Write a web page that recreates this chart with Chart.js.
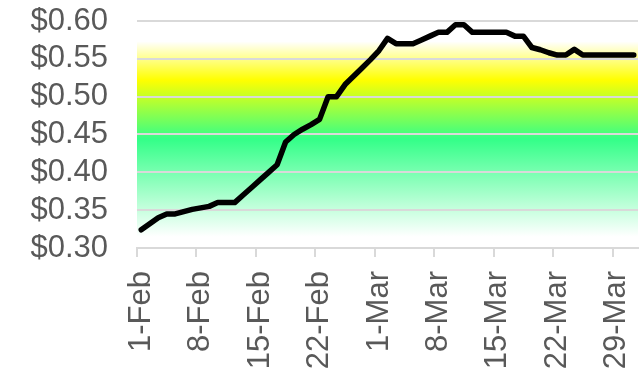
<!DOCTYPE html>
<html>
<head>
<meta charset="utf-8">
<script src="https://cdn.jsdelivr.net/npm/chart.js@4.4.1/dist/chart.umd.min.js"></script>
<style>
  html, body { margin: 0; padding: 0; background: #ffffff; }
  #wrap { width: 643px; height: 372px; position: relative; }
</style>
</head>
<body>
<div id="wrap"><canvas id="c"></canvas></div>
<script>
const categories = [
  '1-Feb','2-Feb','3-Feb','4-Feb','5-Feb','6-Feb','7-Feb','8-Feb','9-Feb','10-Feb',
  '11-Feb','12-Feb','13-Feb','14-Feb','15-Feb','16-Feb','17-Feb','18-Feb','19-Feb','20-Feb',
  '21-Feb','22-Feb','23-Feb','24-Feb','25-Feb','26-Feb','27-Feb','28-Feb','1-Mar','2-Mar',
  '3-Mar','4-Mar','5-Mar','6-Mar','7-Mar','8-Mar','9-Mar','10-Mar','11-Mar','12-Mar',
  '13-Mar','14-Mar','15-Mar','16-Mar','17-Mar','18-Mar','19-Mar','20-Mar','21-Mar','22-Mar',
  '23-Mar','24-Mar','25-Mar','26-Mar','27-Mar','28-Mar','29-Mar','30-Mar','31-Mar'
];
const prices = [
  0.324, 0.332, 0.340, 0.345, 0.345, 0.348, 0.351, 0.353, 0.355, 0.360,
  0.360, 0.360, 0.370, 0.380, 0.390, 0.400, 0.410, 0.440, 0.450, 0.457,
  0.463, 0.470, 0.500, 0.500, 0.516, 0.527, 0.538, 0.549, 0.561, 0.577,
  0.570, 0.570, 0.570, 0.575, 0.580, 0.585, 0.585, 0.595, 0.595, 0.585,
  0.585, 0.585, 0.585, 0.585, 0.580, 0.580, 0.565, 0.562, 0.558, 0.555,
  0.555, 0.5625, 0.555, 0.555, 0.555, 0.555, 0.555, 0.555, 0.555
];
const yTickValues = [0.30, 0.35, 0.40, 0.45, 0.50, 0.55, 0.60];
const labelEvery = 7;

const gradientBg = {
  id: 'gradientBg',
  beforeDraw(chart) {
    const { ctx, chartArea: a } = chart;
    const g = ctx.createLinearGradient(0, a.top, 0, a.bottom);
    g.addColorStop(0.00, '#ffffff');
    g.addColorStop(0.09, '#ffffff');
    g.addColorStop(0.26, '#ffff00');
    g.addColorStop(0.52, '#33ff88');
    g.addColorStop(0.95, '#ffffff');
    g.addColorStop(1.00, '#ffffff');
    ctx.save();
    ctx.fillStyle = g;
    ctx.fillRect(a.left, a.top, a.right - a.left, a.bottom - a.top);
    ctx.restore();
  }
};

const FONT = { family: "'Liberation Sans', Arial, sans-serif", size: 31 };

new Chart(document.getElementById('c'), {
  type: 'line',
  data: {
    labels: categories,
    datasets: [{
      data: prices,
      borderColor: '#000000',
      borderWidth: 5.5,
      borderJoinStyle: 'round',
      borderCapStyle: 'round',
      pointRadius: 0,
      tension: 0,
      fill: false
    }]
  },
  options: {
    responsive: true,
    maintainAspectRatio: false,
    animation: false,
    layout: { padding: { left: 0, right: 5, top: 21, bottom: 0 } },
    plugins: { legend: { display: false }, tooltip: { enabled: false } },
    scales: {
      x: {
        type: 'category',
        offset: true,
        grid: {
          offset: true,
          drawOnChartArea: false,
          drawTicks: true,
          tickLength: 9,
          color: ctx => (ctx.index % labelEvery === 0 ? '#d9d9d9' : 'rgba(0,0,0,0)'),
          lineWidth: 2
        },
        border: { display: true, color: '#d9d9d9', width: 2 },
        ticks: {
          autoSkip: false,
          minRotation: 90,
          maxRotation: 90,
          padding: 14,
          color: '#595959',
          font: FONT,
          callback: function(v, i) { return i % labelEvery === 0 ? categories[i] : ''; }
        },
        afterFit(scale) {
          scale.paddingLeft = 0;
          scale.paddingRight = 0;
          scale.height = 124;
        }
      },
      y: {
        min: yTickValues[0],
        max: yTickValues[yTickValues.length - 1],
        grid: { color: '#d9d9d9', lineWidth: 2, drawTicks: false },
        border: { display: false },
        ticks: {
          autoSkip: false,
          padding: 29,
          color: '#595959',
          font: FONT,
          callback: v => '$' + v.toFixed(2)
        },
        afterBuildTicks(scale) {
          scale.ticks = yTickValues.map(v => ({ value: v }));
        },
        afterFit(scale) {
          scale.paddingTop = 0;
          scale.paddingBottom = 0;
          scale.width = 137;
        }
      }
    }
  },
  plugins: [gradientBg]
});
</script>
</body>
</html>
